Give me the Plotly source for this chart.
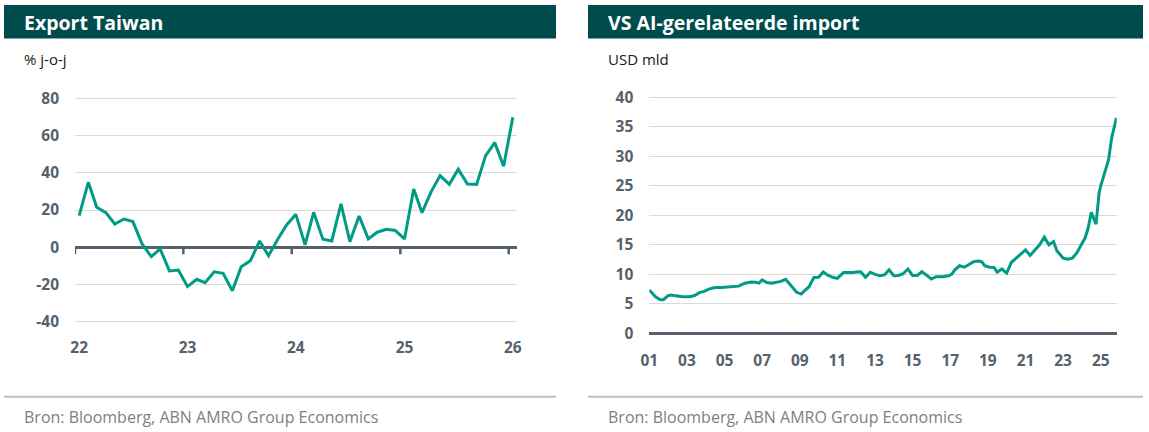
import plotly.graph_objects as go
import pandas as pd

# ---------------- data ----------------
# Left: Taiwan export growth, % y-o-y, monthly Jan-2022 .. Jan-2026
tw_start = "2022-01-01"
tw_values = [17, 35, 21.5, 18.6, 12.5, 15.2, 13.8, 1.8, -5.0, -0.9, -12.7, -12.2,
             -21.1, -17.2, -19.0, -13.2, -14.0, -23.3, -10.4, -7.2, 3.4, -4.5, 4.3, 12.0,
             17.7, 1.3, 18.8, 4.3, 3.4, 23.3, 3.0, 16.8, 4.5, 8.1, 9.7, 9.0,
             4.5, 31.3, 18.6, 29.9, 38.5, 33.8, 41.9, 34.0, 33.8, 49.1, 56.2, 43.5,
             69.8]
tw_tick_years = ["2022", "2023", "2024", "2025", "2026"]
tw_tick_text = ["22", "23", "24", "25", "26"]
tw_yticks = [-40, -20, 0, 20, 40, 60, 80]
tw_ytick_text = ["-40", "-20", "0", "20", "40", "60", "80"]

# Right: US AI-related imports, USD bn
us_dates = ["2001-01", "2001-03", "2001-05", "2001-08", "2001-10", "2002-01", "2002-03",
            "2002-06", "2002-10", "2003-03", "2003-06", "2003-09", "2003-12", "2004-03",
            "2004-07", "2004-11", "2005-03", "2005-06", "2005-10", "2006-02", "2006-06",
            "2006-09", "2006-11", "2007-01", "2007-04", "2007-07", "2007-10", "2008-01",
            "2008-04", "2008-06", "2008-09", "2008-11", "2009-02", "2009-04", "2009-07",
            "2009-10", "2010-01", "2010-04", "2010-07", "2010-10", "2011-01", "2011-05",
            "2011-08", "2011-11", "2012-02", "2012-04", "2012-07", "2012-10", "2013-01",
            "2013-04", "2013-07", "2013-10", "2014-01", "2014-04", "2014-07", "2014-10",
            "2015-01", "2015-04", "2015-07", "2015-10", "2016-01", "2016-04", "2016-08",
            "2016-12", "2017-02", "2017-04", "2017-07", "2017-10", "2018-01", "2018-04",
            "2018-07", "2018-09", "2018-11", "2019-02", "2019-05", "2019-07", "2019-10",
            "2020-01", "2020-04", "2020-07", "2020-10", "2021-01", "2021-04", "2021-07",
            "2021-10", "2022-01", "2022-04", "2022-07", "2022-09", "2023-01", "2023-04",
            "2023-07", "2023-10", "2023-12", "2024-03", "2024-05", "2024-07", "2024-10",
            "2024-12", "2025-01", "2025-03", "2025-06", "2025-08", "2025-11"]
us_values = [7.35, 6.8, 6.2, 5.7, 5.7, 6.4, 6.5,
             6.35, 6.2, 6.2, 6.4, 6.9, 7.1, 7.5,
             7.75, 7.75, 7.8, 7.9, 8.0, 8.5, 8.7,
             8.65, 8.5, 9.05, 8.6, 8.5, 8.6, 8.8,
             9.15, 8.6, 7.6, 6.95, 6.65, 7.2, 7.9,
             9.45, 9.5, 10.4, 9.85, 9.5, 9.3, 10.3,
             10.25, 10.3, 10.45, 10.4, 9.5, 10.35, 10.0,
             9.75, 9.9, 10.75, 9.75, 9.8, 10.1, 10.9,
             9.8, 9.8, 10.45, 9.75, 9.2, 9.6, 9.6,
             9.75, 10.05, 10.75, 11.45, 11.2, 11.7, 12.15,
             12.25, 12.15, 11.45, 11.2, 11.15, 10.35, 10.9,
             10.2, 12.0, 12.7, 13.45, 14.15, 13.2, 14.15,
             15.0, 16.3, 15.0, 15.55, 14.0, 12.75, 12.55,
             12.75, 13.7, 14.7, 16.1, 17.8, 20.5, 18.5,
             23.8, 25.0, 26.9, 29.4, 33.1, 36.5]
us_tick_years = [str(y) for y in range(2001, 2026, 2)]
us_tick_text = ["01", "03", "05", "07", "09", "11", "13", "15", "17", "19", "21", "23", "25"]
us_yticks = [0, 5, 10, 15, 20, 25, 30, 35, 40]

titles = ["Export Taiwan", "VS AI-gerelateerde import"]
units = ["% j-o-j", "USD mld"]
source = "Bron: Bloomberg, ABN AMRO Group Economics"

# ---------------- style ----------------
W, H = 1149, 432
DARK = "#004c4c"
LINE = "#009b85"
GRID = "#dadada"
AXIS = "#56606a"
TICKC = "#56616b"
FONT = "Open Sans"


def fx(p):
    return p / W


def fy(p):
    return 1 - p / H


tw_x = pd.date_range(tw_start, periods=len(tw_values), freq="MS") + pd.Timedelta(days=14)
us_x = pd.to_datetime(us_dates)

fig = go.Figure()
fig.add_trace(go.Scatter(x=tw_x, y=tw_values, mode="lines", xaxis="x", yaxis="y",
                         line=dict(color=LINE, width=3), hoverinfo="skip", showlegend=False))
fig.add_trace(go.Scatter(x=us_x, y=us_values, mode="lines", xaxis="x2", yaxis="y2",
                         line=dict(color=LINE, width=3), hoverinfo="skip", showlegend=False))

tick_font = dict(family=FONT, size=15.5, color=TICKC, weight=700)

fig.update_layout(
    width=W, height=H, margin=dict(l=0, r=0, t=0, b=0, pad=0, autoexpand=False),
    paper_bgcolor="white", plot_bgcolor="white", showlegend=False,
    xaxis=dict(domain=[fx(75), fx(517)], range=["2022-01-01", "2026-01-29"],
               anchor="y", showgrid=False, zeroline=False, showline=False, ticks="",
               automargin=False,
               tickvals=[pd.Timestamp(y + "-01-15") for y in tw_tick_years],
               ticktext=tw_tick_text, tickfont=tick_font, ticklabelstandoff=13),
    yaxis=dict(domain=[fy(323.66), fy(96.44)], range=[-41, 81], anchor="x",
               tickvals=tw_yticks, ticktext=tw_ytick_text, automargin=False,
               showgrid=True, gridcolor=GRID, gridwidth=1.3,
               zeroline=True, zerolinecolor=AXIS, zerolinewidth=3, showline=False,
               ticks="", tickfont=tick_font, ticklabelstandoff=15),
    xaxis2=dict(domain=[fx(649.3), fx(1116.7)], range=["2001-01-01", "2025-11-07"],
                anchor="y2", showgrid=False, zeroline=False, showline=False, ticks="",
                automargin=False,
                tickvals=[pd.Timestamp(y + "-01-01") for y in us_tick_years],
                ticktext=us_tick_text, tickfont=tick_font, ticklabelstandoff=15),
    yaxis2=dict(domain=[fy(334.8), fy(94.35)], range=[-0.25, 40.5], anchor="x2",
                tickvals=us_yticks, automargin=False,
                showgrid=True, gridcolor=GRID, gridwidth=1.3,
                zeroline=True, zerolinecolor=AXIS, zerolinewidth=3, showline=False,
                ticks="", tickfont=tick_font, ticklabelstandoff=15),
)

shapes = []
annotations = []
# title bars, footers
panels = [(4, 556, 22), (588, 1143, 606)]
for (x0, x1, tx), title, unit in zip(panels, titles, units):
    shapes.append(dict(type="rect", xref="paper", yref="paper", x0=fx(x0), x1=fx(x1),
                       y0=fy(38.5), y1=fy(5), fillcolor=DARK, line=dict(width=0), layer="below"))
    shapes.append(dict(type="line", xref="paper", yref="paper", x0=fx(x0), x1=fx(x1),
                       y0=fy(396.7), y1=fy(396.7), line=dict(color="#bfbfbf", width=2)))
    annotations.append(dict(xref="paper", yref="paper", x=fx(tx), y=fy(22), xanchor="left",
                            yanchor="middle", showarrow=False, text=title,
                            font=dict(family=FONT, size=19.5, color="white", weight=700)))
    annotations.append(dict(xref="paper", yref="paper", x=fx(tx), y=fy(59), xanchor="left",
                            yanchor="middle", showarrow=False, text=unit,
                            font=dict(family=FONT, size=15, color="#1a1a1a")))
    annotations.append(dict(xref="paper", yref="paper", x=fx(tx), y=fy(416.5), xanchor="left",
                            yanchor="middle", showarrow=False, text=source,
                            font=dict(family=FONT, size=16, color="#808080")))

# tick marks under the zero lines
for y in tw_tick_years:
    shapes.append(dict(type="line", xref="x", yref="y", ysizemode="pixel", yanchor=0,
                       x0=pd.Timestamp(y + "-01-01"), x1=pd.Timestamp(y + "-01-01"),
                       y0=-1, y1=-7, line=dict(color=AXIS, width=2.5)))
for y in us_tick_years:
    shapes.append(dict(type="line", xref="x2", yref="y2", ysizemode="pixel", yanchor=0,
                       x0=pd.Timestamp(y + "-01-01"), x1=pd.Timestamp(y + "-01-01"),
                       y0=-1, y1=-7, line=dict(color=AXIS, width=2.5)))

fig.update_layout(shapes=shapes, annotations=annotations)
fig.write_html("out.html",
               config={"displayModeBar": False},
               post_script="document.body.style.margin='0px';"
                           "document.body.style.overflow='hidden';")
